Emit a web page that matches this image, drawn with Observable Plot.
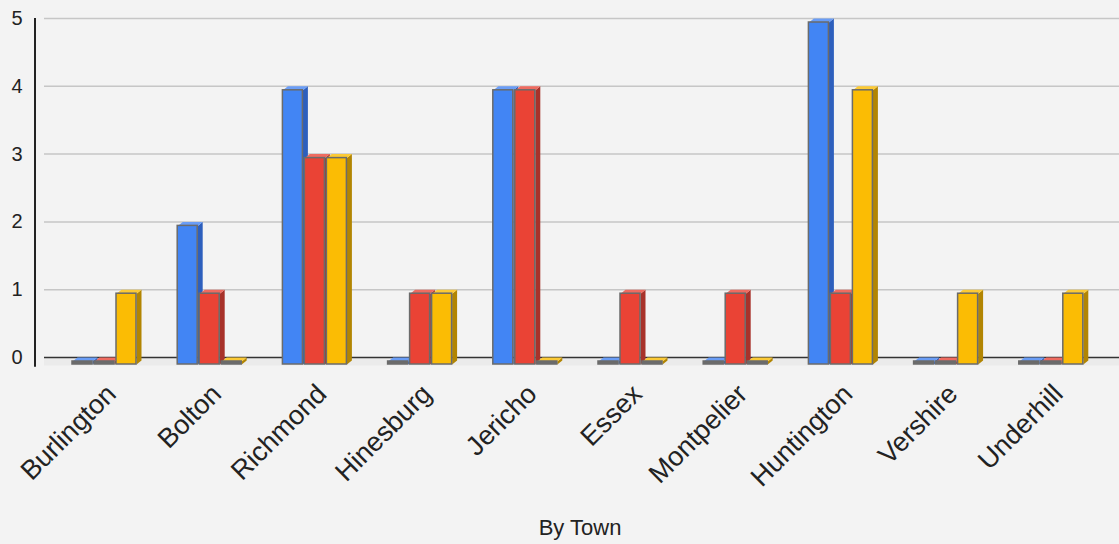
<!DOCTYPE html>
<html><head><meta charset="utf-8">
<script src="https://cdn.jsdelivr.net/npm/d3@7"></script>
<script src="https://cdn.jsdelivr.net/npm/@observablehq/plot@0.6"></script>
<style>html,body{margin:0;padding:0;background:#f3f3f3;} #chart svg{display:block}</style>
</head><body><div id="chart"></div>
<script>
// ---- data ----
const towns = ["Burlington","Bolton","Richmond","Hinesburg","Jericho","Essex","Montpelier","Huntington","Vershire","Underhill"];
const blueValues   = [0, 2, 4, 0, 4, 0, 0, 5, 0, 0];
const redValues    = [0, 1, 3, 1, 4, 1, 1, 1, 0, 0];
const yellowValues = [1, 0, 3, 1, 0, 0, 0, 4, 1, 1];
const yTicks = [0, 1, 2, 3, 4, 5];
const xTitle = "By Town";

// ---- style ----
const series = [
  {values: blueValues,   front: "#4285f4", top: "#6a9df6", side: "#2d5fbd"},
  {values: redValues,    front: "#ea4335", top: "#ef6b60", side: "#a8322a"},
  {values: yellowValues, front: "#fbbc04", top: "#fcca35", side: "#b28502"}
];
const W = 1119, H = 544;
const PX_X = 105.2;               // pixels per town step
const FIRST_CENTER = 104;         // pixel centre of first group
const LEFT = 34, TOP = 18, BASE = 357;
const PX_Y = (BASE - TOP) / 5;
const xDomain = [(LEFT - FIRST_CENTER) / PX_X, (W - FIRST_CENTER) / PX_X];
const GRID_X1 = (44 - FIRST_CENTER) / PX_X;
const OFF = 22 / PX_X, HW = 10 / PX_X;
const DX = 5 / PX_X, DY = 4 / PX_Y;
const FRONT_BOTTOM = -7 / PX_Y;
const GRAY = "#6b6b6b";

const bars = [];
series.forEach((s, si) => s.values.forEach((v, i) => {
  const xc = i + (si - 1) * OFF;
  bars.push({si, i, v, xL: xc - HW, xR: xc + HW, s});
}));
const topRows = [], sideRows = [];
bars.forEach((b, k) => {
  const ft = b.v - DY;
  [[b.xL, ft], [b.xR, ft], [b.xR + DX, b.v], [b.xL + DX, b.v]]
    .forEach(([x, y]) => topRows.push({id: k, x, y, c: b.s.top}));
  [[b.xR, ft], [b.xR + DX, b.v], [b.xR + DX, FRONT_BOTTOM + DY], [b.xR, FRONT_BOTTOM]]
    .forEach(([x, y]) => sideRows.push({id: k, x, y, c: b.s.side}));
});

const chart = Plot.plot({
  width: W, height: H,
  marginLeft: LEFT, marginRight: 0, marginTop: TOP, marginBottom: H - BASE,
  style: {background: "#f3f3f3", fontSize: "20px", fontFamily: "'Liberation Sans', Arial, sans-serif", color: "#222"},
  x: {domain: xDomain, axis: null},
  y: {domain: [0, 5], ticks: yTicks, tickFormat: d => String(d), tickSize: 0, tickPadding: 12, label: null},
  color: {type: "identity"},
  marks: [
    Plot.rect([0], {x1: () => GRID_X1, x2: () => xDomain[1], y1: () => FRONT_BOTTOM - 1.5 / PX_Y, y2: () => 0, fill: "#ebebeb"}),
    Plot.ruleY(yTicks.filter(t => t > 0), {x1: () => GRID_X1, x2: () => xDomain[1], stroke: "#c6c6c6", strokeWidth: 1.5}),
    Plot.ruleY([0], {x1: () => GRID_X1, x2: () => xDomain[1], stroke: "#333", strokeWidth: 1.5}),
    Plot.ruleX([xDomain[0]], {y1: () => -0.143, y2: () => 5, stroke: "#222", strokeWidth: 2, dx: 0.5}),
    Plot.line(sideRows, {x: "x", y: "y", z: "id", fill: "c", stroke: "none", curve: "linear-closed"}),
    Plot.line(topRows, {x: "x", y: "y", z: "id", fill: "c", stroke: "none", curve: "linear-closed"}),
    Plot.rect(bars, {x1: "xL", x2: "xR", y1: () => FRONT_BOTTOM, y2: d => d.v - DY,
      fill: d => d.v === 0 ? GRAY : d.s.front, stroke: GRAY, strokeWidth: 1.5}),
    Plot.text(towns, {x: (d, i) => i, y: () => 0, text: d => d, rotate: -45, textAnchor: "end",
      fontSize: 27, dx: 7, dy: 32, fill: "#222"}),
    Plot.text([xTitle], {frameAnchor: "bottom", text: d => d, fontSize: 22, dx: 3, dy: 177, fill: "#222"})
  ]
});
document.getElementById("chart").appendChild(chart);
</script>
</body></html>
